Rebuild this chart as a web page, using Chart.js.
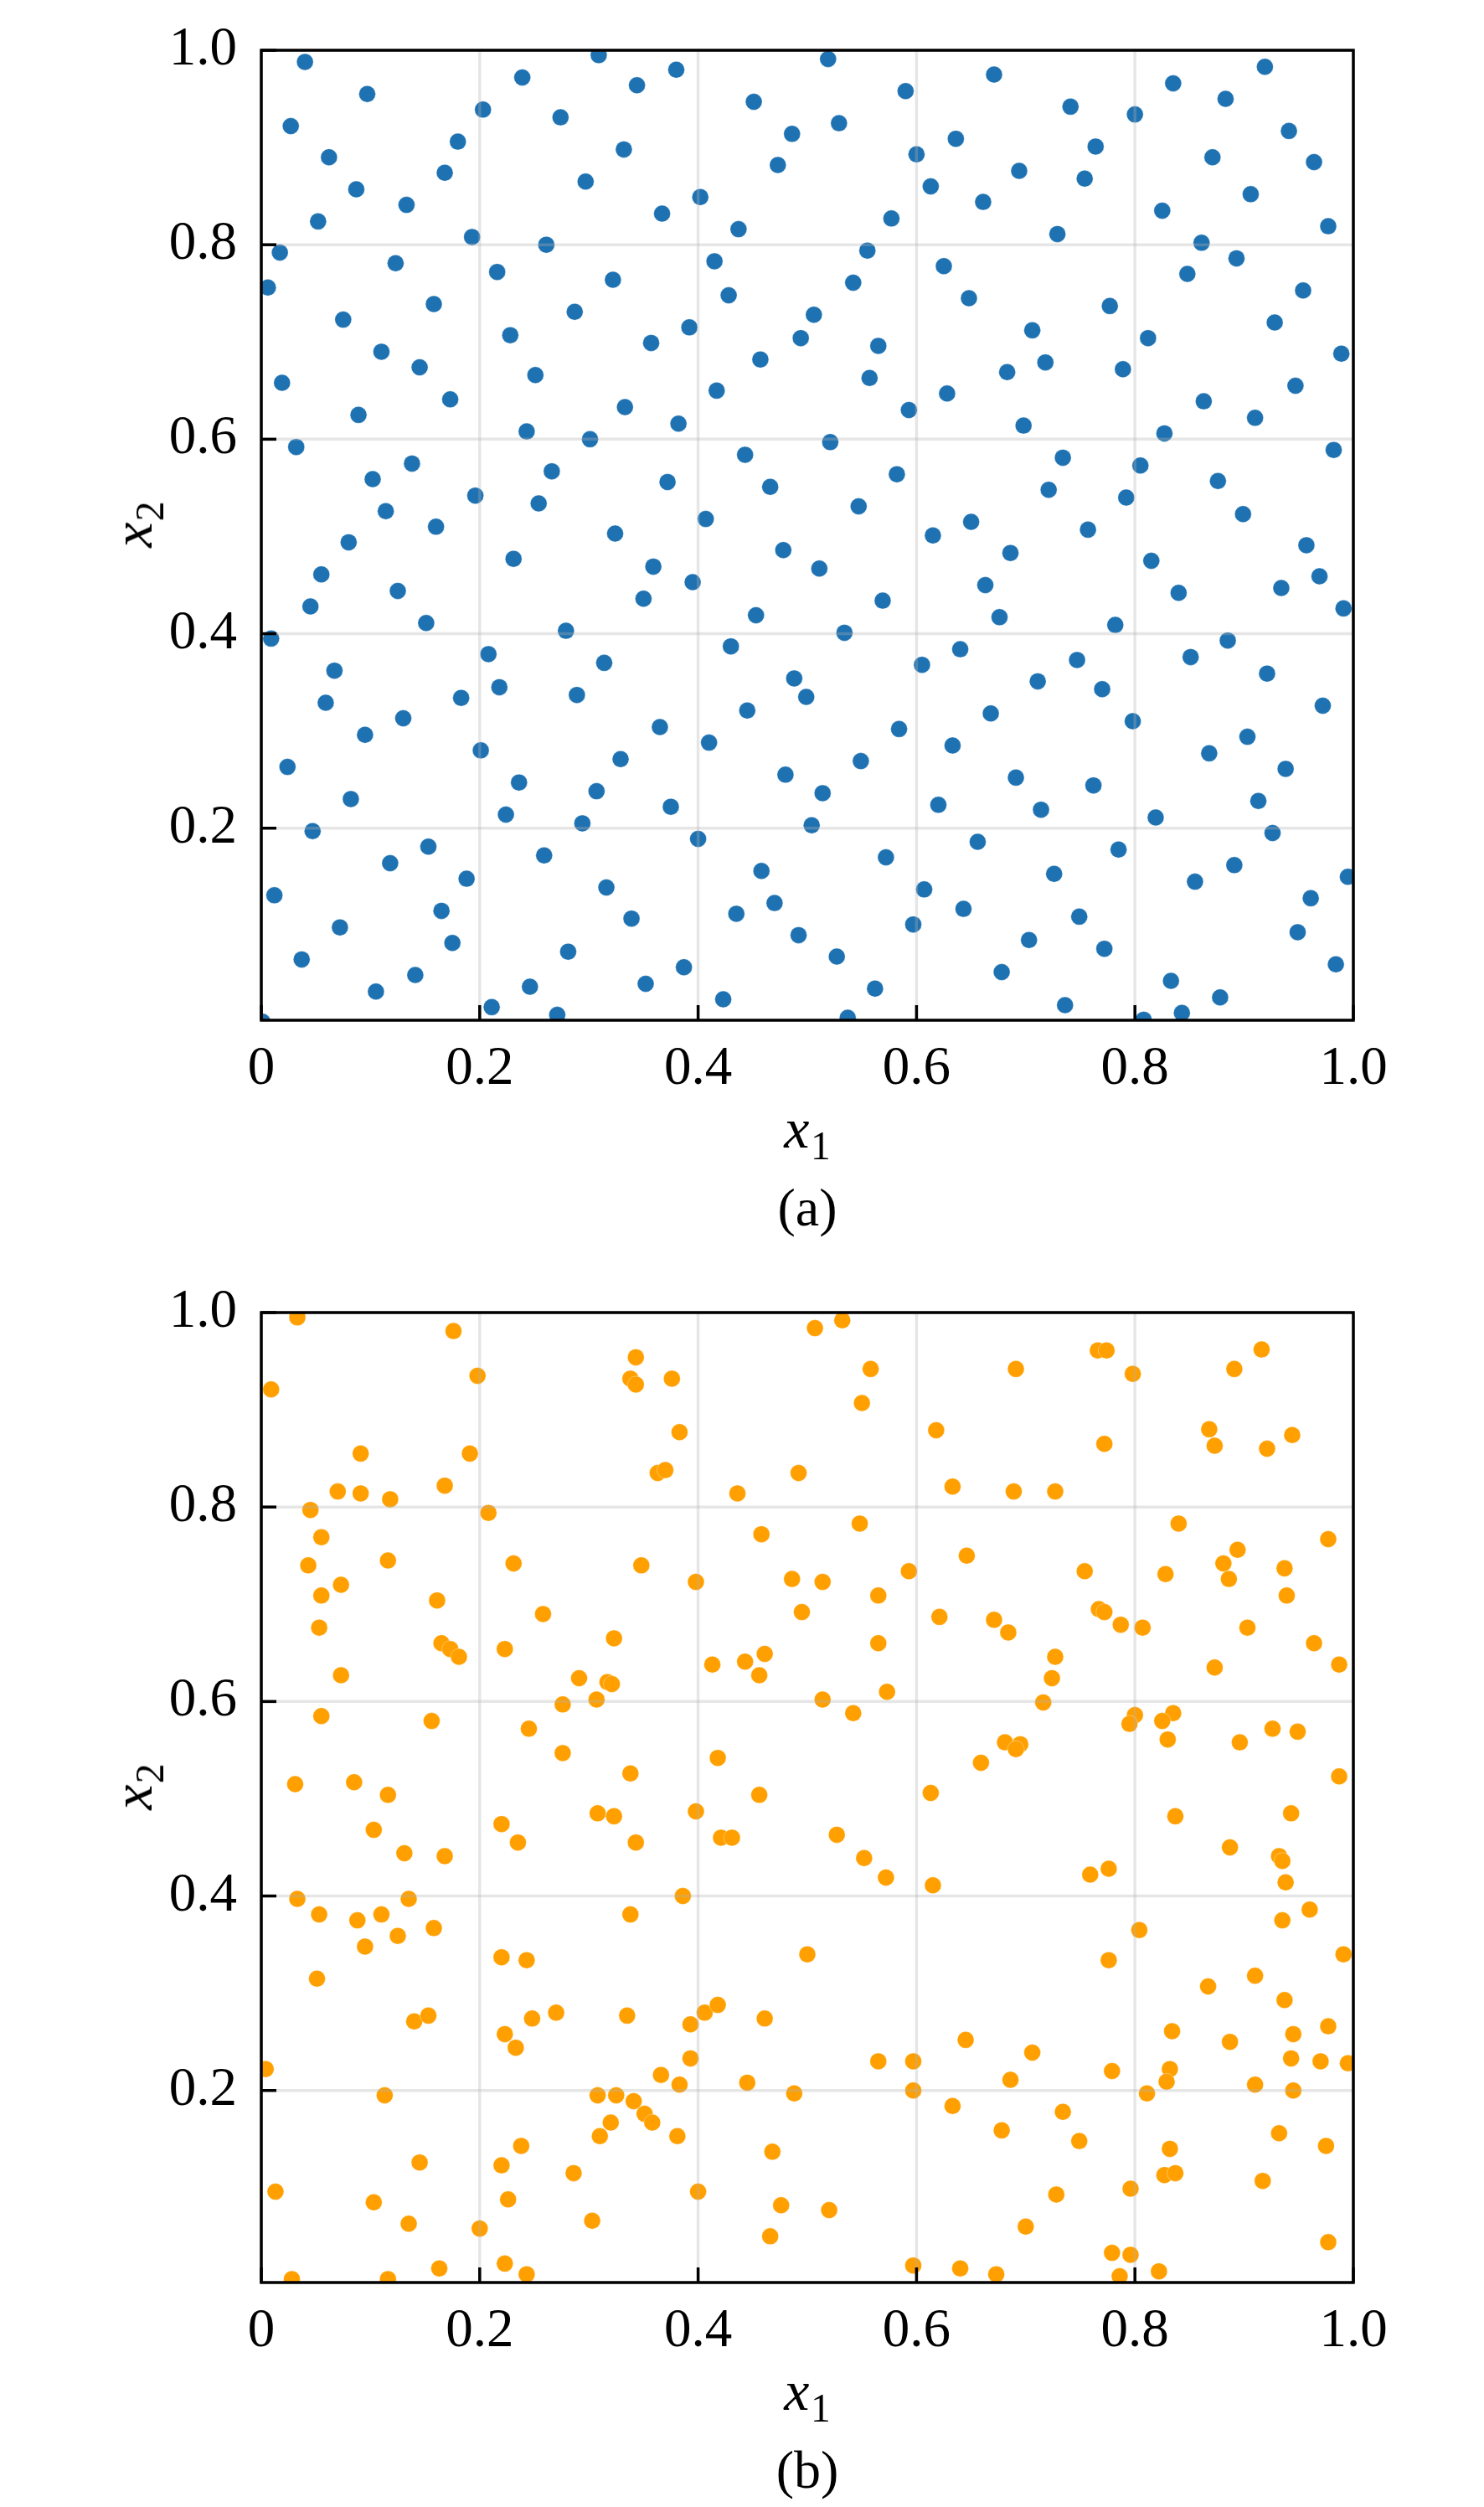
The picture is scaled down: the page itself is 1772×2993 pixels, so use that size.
<!DOCTYPE html>
<html>
<head>
<meta charset="utf-8">
<script src="https://cdn.jsdelivr.net/npm/chart.js@4.4.1/dist/chart.umd.min.js"></script>
<style>
  html, body { margin: 0; padding: 0; background: #fff; }
  body { width: 1772px; height: 2993px; position: relative; overflow: hidden; }
  canvas { position: absolute; left: 0; }
  .lbl { position: absolute; font-family: "Liberation Serif", "Times New Roman", serif; font-size: 68px; line-height: 1; white-space: nowrap; color: #000; }
  .lbl i { font-style: italic; }
  .lbl .sub { font-size: 0.7em; position: relative; top: 0.3em; margin-left: 0.03em; }
  .xlab { transform: translateX(-50%); }
  .ylab { transform: translate(-50%, -50%) rotate(-90deg); }
  .cap { font-size: 64px; transform: translateX(-50%); }
</style>
</head>
<body>
<canvas id="chartA" width="1772" height="1360" style="top:0px;width:1772px;height:1360px"></canvas>
<canvas id="chartB" width="1772" height="1360" style="top:1507px;width:1772px;height:1360px"></canvas>

<div class="lbl xlab" style="left:964px;top:1313px"><i>x</i><span class="sub">1</span></div>
<div class="lbl ylab" style="left:158px;top:626px"><i>x</i><span class="sub">2</span></div>
<div class="lbl cap" style="left:964px;top:1410px">(a)</div>

<div class="lbl xlab" style="left:964px;top:2820px"><i>x</i><span class="sub">1</span></div>
<div class="lbl ylab" style="left:158px;top:2133px"><i>x</i><span class="sub">2</span></div>
<div class="lbl cap" style="left:964px;top:2917px">(b)</div>

<script>
// tick positions and labels
var xTicks = [0, 0.2, 0.4, 0.6, 0.8, 1.0];
var xTickLabels = ["0", "0.2", "0.4", "0.6", "0.8", "1.0"];
var yTicks = [0.2, 0.4, 0.6, 0.8, 1.0];
var yTickLabels = ["0.2", "0.4", "0.6", "0.8", "1.0"];

// (a) low-discrepancy sample
var aX = [
  0.040, 0.097, 0.027, 0.062, 0.087, 0.133, 0.052, 0.180,
  0.168, 0.203, 0.239, 0.309, 0.274, 0.344, 0.380, 0.332,
  0.297, 0.193, 0.261, 0.367, 0.402, 0.451, 0.486, 0.473,
  0.437, 0.017, 0.006, 0.123, 0.158, 0.216, 0.322, 0.415,
  0.428, 0.075, 0.287, 0.228, 0.392, 0.357, 0.110, 0.145,
  0.251, 0.494, 0.457, 0.019, 0.173, 0.089, 0.333, 0.417,
  0.382, 0.243, 0.301, 0.032, 0.138, 0.102, 0.266, 0.372,
  0.443, 0.466, 0.196, 0.254, 0.114, 0.160, 0.407, 0.324,

  0.519, 0.590, 0.529, 0.600, 0.636, 0.671, 0.613, 0.661,
  0.694, 0.577, 0.741, 0.764, 0.754, 0.729, 0.800, 0.835,
  0.919, 0.883, 0.941, 0.871, 0.964, 0.906, 0.825, 0.977,
  0.861, 0.893, 0.848, 0.954, 0.928, 0.812, 0.989, 0.947,
  0.863, 0.910, 0.827, 0.982, 0.876, 0.899, 0.792, 0.805,
  0.721, 0.734, 0.757, 0.650, 0.615, 0.582, 0.547, 0.521,
  0.625, 0.648, 0.555, 0.542, 0.506, 0.565, 0.557, 0.593,
  0.628, 0.683, 0.718, 0.706, 0.777, 0.789, 0.698,

  0.080, 0.055, 0.045, 0.125, 0.151, 0.231, 0.359, 0.395,
  0.350, 0.478, 0.453, 0.279, 0.009, 0.208, 0.314, 0.430,
  0.488, 0.067, 0.059, 0.218, 0.289, 0.183, 0.130, 0.095,
  0.445, 0.365, 0.201, 0.410, 0.329, 0.024, 0.236, 0.480,
  0.307, 0.082, 0.375, 0.224, 0.294, 0.047, 0.400, 0.153,
  0.259, 0.118, 0.458, 0.012, 0.188, 0.316, 0.165, 0.470,
  0.435, 0.339, 0.072, 0.492, 0.175, 0.281, 0.037, 0.387,
  0.141, 0.246, 0.352, 0.105, 0.423, 0.211, 0.271, 0.001,

  0.499, 0.511, 0.569, 0.534, 0.686, 0.663, 0.676, 0.782,
  0.815, 0.840, 0.934, 0.957, 0.969, 0.991, 0.885, 0.851,
  0.921, 0.972, 0.640, 0.605, 0.747, 0.711, 0.770, 0.668,
  0.798, 0.584, 0.633, 0.549, 0.868, 0.903, 0.938, 0.691,
  0.762, 0.514, 0.620, 0.714, 0.913, 0.819, 0.504, 0.926,
  0.656, 0.785, 0.572, 0.891, 0.726, 0.995, 0.855, 0.607,
  0.961, 0.643, 0.749, 0.597, 0.949, 0.527, 0.703, 0.772,
  0.984, 0.678, 0.833, 0.562, 0.878, 0.736, 0.843, 0.537,
  0.808
];
var aY = [
  0.988, 0.955, 0.922, 0.890, 0.857, 0.841, 0.824, 0.906,
  0.874, 0.939, 0.972, 0.995, 0.931, 0.964, 0.980, 0.898,
  0.865, 0.808, 0.800, 0.832, 0.849, 0.947, 0.914, 0.882,
  0.816, 0.792, 0.756, 0.781, 0.739, 0.772, 0.764, 0.783,
  0.748, 0.723, 0.731, 0.707, 0.715, 0.699, 0.690, 0.674,
  0.666, 0.704, 0.682, 0.658, 0.641, 0.625, 0.633, 0.650,
  0.616, 0.608, 0.600, 0.592, 0.575, 0.559, 0.567, 0.556,
  0.584, 0.551, 0.542, 0.534, 0.526, 0.510, 0.518, 0.503,

  0.991, 0.958, 0.925, 0.893, 0.909, 0.975, 0.860, 0.844,
  0.876, 0.827, 0.942, 0.901, 0.868, 0.811, 0.934, 0.966,
  0.983, 0.950, 0.917, 0.890, 0.885, 0.852, 0.835, 0.819,
  0.802, 0.786, 0.770, 0.753, 0.720, 0.704, 0.688, 0.655,
  0.639, 0.622, 0.606, 0.589, 0.557, 0.523, 0.540, 0.573,
  0.548, 0.581, 0.507, 0.515, 0.501, 0.564, 0.531, 0.597,
  0.778, 0.745, 0.794, 0.761, 0.728, 0.696, 0.663, 0.630,
  0.647, 0.669, 0.679, 0.712, 0.737, 0.672, 0.614,

  0.494, 0.461, 0.428, 0.444, 0.411, 0.477, 0.469, 0.453,
  0.436, 0.486, 0.419, 0.403, 0.395, 0.379, 0.370, 0.387,
  0.354, 0.362, 0.329, 0.345, 0.337, 0.334, 0.313, 0.296,
  0.321, 0.304, 0.280, 0.288, 0.271, 0.263, 0.247, 0.255,
  0.238, 0.230, 0.222, 0.214, 0.205, 0.197, 0.189, 0.181,
  0.172, 0.164, 0.156, 0.131, 0.148, 0.139, 0.115, 0.123,
  0.112, 0.107, 0.098, 0.090, 0.082, 0.073, 0.065, 0.057,
  0.049, 0.037, 0.040, 0.032, 0.024, 0.016, 0.008, 0.001,

  0.335, 0.467, 0.434, 0.401, 0.483, 0.450, 0.417, 0.409,
  0.475, 0.442, 0.447, 0.491, 0.459, 0.426, 0.393, 0.376,
  0.359, 0.326, 0.384, 0.368, 0.373, 0.351, 0.343, 0.318,
  0.310, 0.302, 0.285, 0.269, 0.277, 0.294, 0.261, 0.252,
  0.244, 0.236, 0.224, 0.219, 0.228, 0.211, 0.203, 0.195,
  0.186, 0.178, 0.170, 0.162, 0.153, 0.150, 0.145, 0.137,
  0.128, 0.117, 0.109, 0.101, 0.093, 0.068, 0.085, 0.076,
  0.060, 0.052, 0.043, 0.035, 0.026, 0.018, 0.010, 0.005,
  0.003
];

// (b) random sample
var bX = [
  0.033, 0.176, 0.009, 0.198, 0.343, 0.338, 0.343, 0.376,
  0.383, 0.091, 0.191, 0.363, 0.370, 0.492, 0.070, 0.091,
  0.118, 0.168, 0.436, 0.045, 0.208, 0.055, 0.458, 0.043,
  0.116, 0.231, 0.348, 0.073, 0.055, 0.398, 0.486, 0.161,
  0.258, 0.495, 0.053, 0.323, 0.165, 0.173, 0.181, 0.223,
  0.413, 0.443, 0.461, 0.456, 0.073, 0.291, 0.317, 0.321,
  0.307, 0.276, 0.055, 0.156, 0.245, 0.276, 0.418, 0.031,
  0.085, 0.116, 0.338, 0.456,

  0.507, 0.532, 0.558, 0.550, 0.618, 0.691, 0.766, 0.774,
  0.798, 0.772, 0.633, 0.689, 0.727, 0.891, 0.916, 0.868,
  0.873, 0.921, 0.944, 0.548, 0.840, 0.977, 0.646, 0.894,
  0.881, 0.593, 0.754, 0.828, 0.937, 0.514, 0.886, 0.565,
  0.939, 0.621, 0.767, 0.772, 0.671, 0.684, 0.787, 0.807,
  0.903, 0.565, 0.964, 0.727, 0.724, 0.873, 0.987, 0.514,
  0.573, 0.716, 0.542, 0.800, 0.795, 0.835, 0.825, 0.830,
  0.926, 0.949, 0.896, 0.681, 0.695, 0.691, 0.659, 0.613,
  0.987,

  0.220, 0.235, 0.308, 0.323, 0.343, 0.398, 0.421, 0.431,
  0.103, 0.131, 0.168, 0.033, 0.135, 0.386, 0.053, 0.088,
  0.110, 0.338, 0.158, 0.125, 0.095, 0.220, 0.243, 0.500,
  0.051, 0.140, 0.153, 0.248, 0.270, 0.335, 0.223, 0.233,
  0.393, 0.406, 0.418, 0.461, 0.004, 0.393, 0.366, 0.383,
  0.445, 0.488, 0.113, 0.308, 0.325, 0.341, 0.351, 0.358,
  0.320, 0.310, 0.381, 0.238, 0.468, 0.145, 0.220, 0.286,
  0.013, 0.400, 0.103, 0.226, 0.476, 0.135, 0.200, 0.303,
  0.466, 0.163, 0.223, 0.243, 0.028, 0.116,

  0.527, 0.552, 0.572, 0.615, 0.759, 0.776, 0.837, 0.943,
  0.887, 0.932, 0.935, 0.938, 0.960, 0.935, 0.804, 0.776,
  0.991, 0.867, 0.910, 0.937, 0.834, 0.887, 0.945, 0.977,
  0.943, 0.970, 0.995, 0.832, 0.829, 0.779, 0.910, 0.945,
  0.811, 0.645, 0.706, 0.686, 0.565, 0.597, 0.597, 0.633,
  0.734, 0.678, 0.749, 0.932, 0.975, 0.832, 0.827, 0.837,
  0.917, 0.796, 0.728, 0.520, 0.700, 0.977, 0.779, 0.796,
  0.597, 0.640, 0.673, 0.786, 0.822
];
var bY = [
  0.995, 0.981, 0.921, 0.935, 0.954, 0.932, 0.926, 0.932,
  0.877, 0.855, 0.855, 0.835, 0.838, 0.835, 0.816, 0.814,
  0.808, 0.822, 0.814, 0.797, 0.794, 0.769, 0.772, 0.740,
  0.745, 0.742, 0.740, 0.720, 0.709, 0.723, 0.726, 0.704,
  0.690, 0.692, 0.676, 0.665, 0.660, 0.654, 0.646, 0.654,
  0.638, 0.641, 0.649, 0.627, 0.627, 0.624, 0.620, 0.618,
  0.602, 0.597, 0.585, 0.580, 0.572, 0.547, 0.542, 0.515,
  0.517, 0.504, 0.526, 0.504,

  0.984, 0.992, 0.942, 0.907, 0.879, 0.942, 0.961, 0.961,
  0.937, 0.865, 0.821, 0.816, 0.816, 0.942, 0.962, 0.880,
  0.863, 0.860, 0.874, 0.783, 0.783, 0.767, 0.750, 0.756,
  0.742, 0.734, 0.734, 0.731, 0.737, 0.723, 0.726, 0.709,
  0.709, 0.687, 0.695, 0.692, 0.684, 0.671, 0.679, 0.676,
  0.676, 0.660, 0.660, 0.646, 0.624, 0.635, 0.638, 0.602,
  0.610, 0.599, 0.588, 0.586, 0.577, 0.588, 0.580, 0.561,
  0.572, 0.569, 0.558, 0.558, 0.556, 0.551, 0.537, 0.506,
  0.523,

  0.474, 0.455, 0.485, 0.482, 0.455, 0.487, 0.460, 0.460,
  0.468, 0.444, 0.441, 0.397, 0.397, 0.400, 0.381, 0.375,
  0.381, 0.381, 0.367, 0.359, 0.348, 0.337, 0.334, 0.340,
  0.315, 0.271, 0.277, 0.274, 0.280, 0.277, 0.258, 0.244,
  0.268, 0.280, 0.288, 0.274, 0.222, 0.233, 0.216, 0.206,
  0.208, 0.197, 0.195, 0.195, 0.195, 0.189, 0.176, 0.167,
  0.167, 0.153, 0.153, 0.143, 0.137, 0.126, 0.123, 0.115,
  0.096, 0.096, 0.085, 0.088, 0.082, 0.063, 0.058, 0.066,
  0.050, 0.017, 0.022, 0.011, 0.006, 0.006,

  0.463, 0.439, 0.419, 0.411, 0.422, 0.428, 0.482, 0.485,
  0.450, 0.441, 0.436, 0.414, 0.386, 0.375, 0.365, 0.334,
  0.340, 0.307, 0.318, 0.293, 0.261, 0.250, 0.258, 0.266,
  0.233, 0.230, 0.228, 0.222, 0.209, 0.220, 0.206, 0.200,
  0.197, 0.252, 0.239, 0.211, 0.230, 0.230, 0.200, 0.184,
  0.178, 0.159, 0.148, 0.156, 0.143, 0.140, 0.113, 0.115,
  0.107, 0.099, 0.093, 0.077, 0.060, 0.044, 0.033, 0.031,
  0.020, 0.017, 0.011, 0.009, 0.014
];

var yMin = 0.0025;
var tickFont = { family: "'Liberation Serif', 'Times New Roman', serif", size: 65 };

// grid over the points, then the black frame with inward ticks
var axesBox = {
  id: "axesBox",
  afterDatasetsDraw: function (chart) {
    var ctx = chart.ctx;
    var a = chart.chartArea;
    var xs = chart.scales.x;
    var ys = chart.scales.y;
    ctx.save();
    ctx.strokeStyle = "rgba(176,176,176,0.32)";
    ctx.lineWidth = 3.5;
    xTicks.forEach(function (v) {
      var px = xs.getPixelForValue(v);
      ctx.beginPath(); ctx.moveTo(px, a.top); ctx.lineTo(px, a.bottom); ctx.stroke();
    });
    yTicks.forEach(function (v) {
      var py = ys.getPixelForValue(v);
      ctx.beginPath(); ctx.moveTo(a.left, py); ctx.lineTo(a.right, py); ctx.stroke();
    });
    ctx.strokeStyle = "#000";
    ctx.lineWidth = 3.5;
    xTicks.forEach(function (v) {
      var px = xs.getPixelForValue(v);
      ctx.beginPath(); ctx.moveTo(px, a.bottom); ctx.lineTo(px, a.bottom - 18); ctx.stroke();
    });
    yTicks.forEach(function (v) {
      var py = ys.getPixelForValue(v);
      ctx.beginPath(); ctx.moveTo(a.left, py); ctx.lineTo(a.left + 18, py); ctx.stroke();
    });
    ctx.strokeRect(a.left, a.top, a.right - a.left, a.bottom - a.top);
    ctx.restore();
  }
};

function makeChart(id, xs, ys, color) {
  var pts = xs.map(function (v, i) { return { x: v, y: ys[i] }; });
  return new Chart(document.getElementById(id).getContext("2d"), {
    type: "scatter",
    data: {
      datasets: [{
        data: pts,
        backgroundColor: color,
        borderColor: "rgba(255,255,255,0.35)",
        borderWidth: 1,
        pointRadius: 10,
        pointHoverRadius: 10,
        clip: 0
      }]
    },
    options: {
      responsive: false,
      animation: false,
      events: [],
      layout: { padding: { left: 0, top: 35, right: 156, bottom: 0 } },
      plugins: { legend: { display: false }, tooltip: { enabled: false } },
      scales: {
        x: {
          type: "linear",
          min: 0,
          max: 1,
          afterBuildTicks: function (scale) {
            scale.ticks = xTicks.map(function (v) { return { value: v }; });
          },
          afterFit: function (scale) { scale.height = 142; },
          grid: { display: false },
          border: { display: false },
          ticks: {
            autoSkip: false,
            maxRotation: 0,
            padding: 12,
            color: "#000",
            font: tickFont,
            callback: function (value, index) { return xTickLabels[index]; }
          }
        },
        y: {
          type: "linear",
          min: yMin,
          max: 1,
          afterBuildTicks: function (scale) {
            scale.ticks = yTicks.map(function (v) { return { value: v }; });
          },
          afterFit: function (scale) { scale.width = 312; },
          grid: { display: false },
          border: { display: false },
          ticks: {
            autoSkip: false,
            padding: 21,
            color: "#000",
            font: tickFont,
            callback: function (value, index) { return yTickLabels[index]; }
          }
        }
      }
    },
    plugins: [axesBox]
  });
}

makeChart("chartA", aX, aY, "#1f72b2");
makeChart("chartB", bX, bY, "#ffa000");
</script>
</body>
</html>
